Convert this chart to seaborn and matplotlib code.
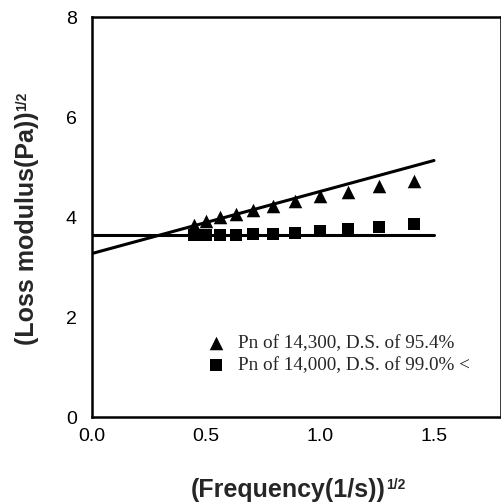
import numpy as np
import pandas as pd
import matplotlib
matplotlib.use("Agg")
import matplotlib.pyplot as plt
import seaborn as sns

# Data
freq_sqrt = [0.447, 0.50, 0.562, 0.631, 0.708, 0.794, 0.891, 1.0, 1.122, 1.259, 1.413]
loss_tri = [3.85, 3.92, 4.00, 4.07, 4.15, 4.23, 4.32, 4.42, 4.50, 4.62, 4.72]
loss_sq = [3.65, 3.65, 3.65, 3.65, 3.66, 3.67, 3.69, 3.72, 3.77, 3.80, 3.86]
fit_x = [0.0, 1.5]
fit_tri = [3.27, 5.13]
fit_sq = [3.65, 3.65]
label_tri = "Pn of 14,300, D.S. of 95.4%"
label_sq = "Pn of 14,000, D.S. of 99.0% <"
xticks = [0.0, 0.5, 1.0, 1.5]
yticks = [0, 2, 4, 6, 8]
xlabel_main, xlabel_sup = "(Frequency(1/s))", "1/2"
ylabel_main, ylabel_sup = "(Loss modulus(Pa))", "1/2"

sns.set_style("white")
plt.rcParams['font.family'] = ['Liberation Sans', 'DejaVu Sans']

W, H = 502, 504
fig = plt.figure(figsize=(W / 100, H / 100), dpi=100)
ax = fig.add_axes([92 / W, 87 / H, (501 - 92) / W, (417 - 17) / H])

df_tri = pd.DataFrame({"x": freq_sqrt, "y": loss_tri})
df_sq = pd.DataFrame({"x": freq_sqrt, "y": loss_sq})
df_ft = pd.DataFrame({"x": fit_x, "y": fit_tri})
df_fs = pd.DataFrame({"x": fit_x, "y": fit_sq})

sns.lineplot(data=df_ft, x="x", y="y", ax=ax, color="black", lw=2.2)
sns.lineplot(data=df_fs, x="x", y="y", ax=ax, color="black", lw=2.2)
sns.scatterplot(data=df_tri, x="x", y="y", ax=ax, marker="^", s=95, color="black",
                edgecolor="black", linewidth=0, label=label_tri, zorder=3)
sns.scatterplot(data=df_sq, x="x", y="y", ax=ax, marker="s", s=80, color="black",
                edgecolor="black", linewidth=0, label=label_sq, zorder=3)

ax.set_xlim(0, 1.794)
ax.set_ylim(0, 8)
ax.set_xticks(xticks)
ax.set_xticklabels([f"{t:.1f}" for t in xticks])
ax.set_yticks(yticks)
ax.set_yticklabels([str(t) for t in yticks])
ax.tick_params(direction="in", length=6, width=1.5, labelsize=14, colors="black")
ax.tick_params(axis="x", pad=8)
ax.tick_params(axis="y", pad=11)
for s in ax.spines.values():
    s.set_color("black")
    s.set_linewidth(1.8)
ax.set_xlabel("")
ax.set_ylabel("")

leg = ax.legend(loc="center left", bbox_to_anchor=(206 / W, (H - 354) / H),
                bbox_transform=fig.transFigure, frameon=False,
                prop={"family": "Liberation Serif", "size": 13.8},
                handletextpad=0.68, labelspacing=0.25, borderaxespad=0, borderpad=0,
                handlelength=1.0)

# Axis labels with small raised "1/2"
fig.canvas.draw()
r = fig.canvas.get_renderer()
main_fs, sup_fs = 18, 10
raise_px = 0.716 * (main_fs - sup_fs) * 100 / 72
gap = 0.5

# x label
tx = fig.text(0, (H - 497) / H, xlabel_main, fontsize=main_fs, fontweight="bold",
              ha="left", va="baseline")
ts = fig.text(0, (H - 497 + raise_px) / H, xlabel_sup, fontsize=sup_fs, fontweight="bold",
              ha="left", va="baseline")
wm = tx.get_window_extent(r).width
ws = ts.get_window_extent(r).width
x0 = 298 - (wm + ws + gap) / 2
tx.set_x(x0 / W)
ts.set_x((x0 + wm + gap) / W)

# y label (rotated)
ty = fig.text(34 / W, 0, ylabel_main, fontsize=main_fs, fontweight="bold",
              rotation=90, rotation_mode="anchor", ha="left", va="baseline")
tys = fig.text((34 - raise_px) / W, 0, ylabel_sup, fontsize=sup_fs, fontweight="bold",
               rotation=90, rotation_mode="anchor", ha="left", va="baseline")
hm = ty.get_window_extent(r).height
hs = tys.get_window_extent(r).height
y0 = (H - 218) - (hm + hs + gap) / 2
ty.set_y(y0 / H)
tys.set_y((y0 + hm + gap) / H)

fig.savefig("out.png", dpi=100)
